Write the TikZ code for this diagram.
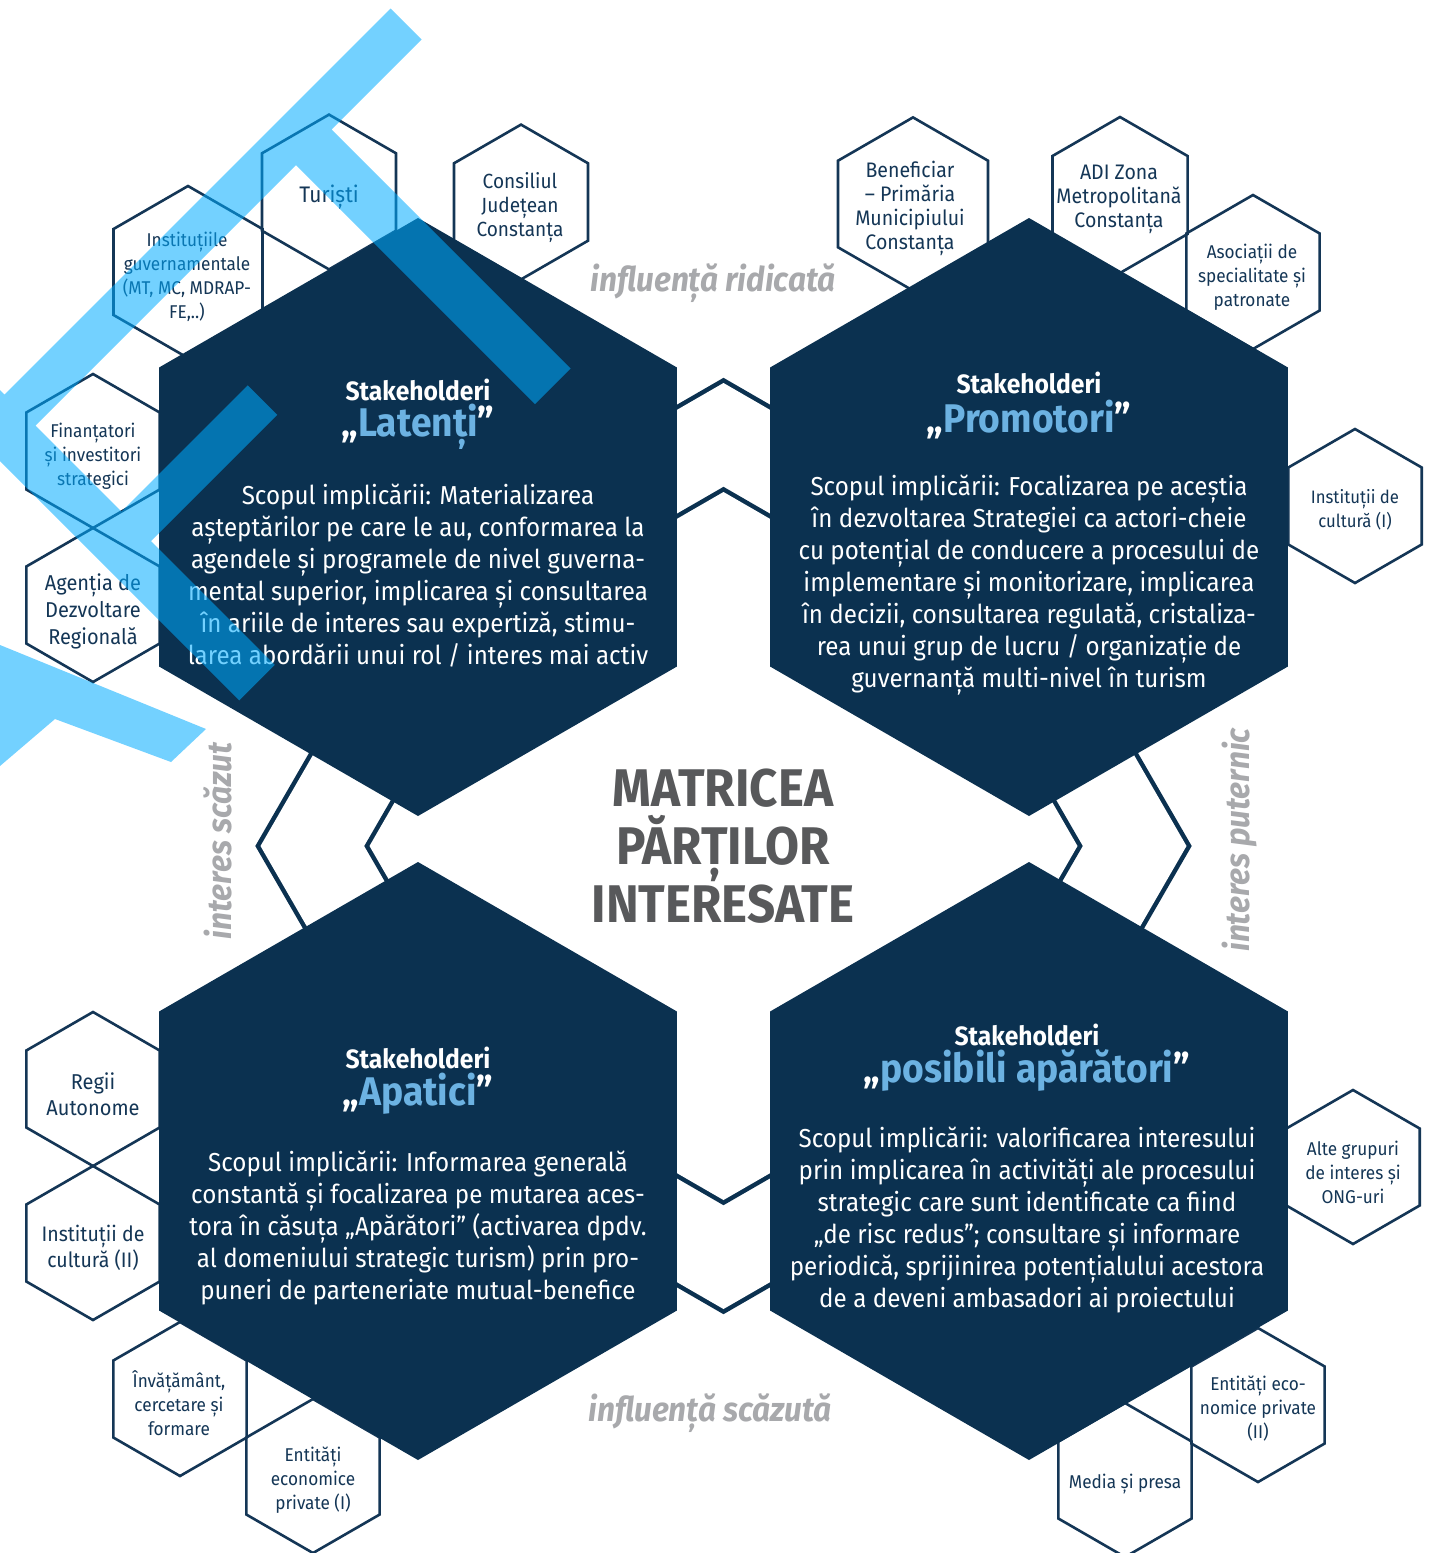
\documentclass[tikz,border=0pt]{standalone}
\usepackage{fontspec}
\setmainfont[FakeStretch=0.93]{Fira Sans}
\definecolor{navy}{RGB}{11,49,80}
\definecolor{hexline}{RGB}{20,54,86}
\definecolor{accent}{RGB}{108,178,226}
\definecolor{titlegrey}{RGB}{88,89,91}
\definecolor{axisgrey}{RGB}{168,169,172}
\definecolor{bandcol}{RGB}{0,172,255}
\newcommand\hexP[3]{(#1,#2-#3) -- (#1+0.8660254*#3,#2-0.5*#3) -- (#1+0.8660254*#3,#2+0.5*#3) -- (#1,#2+#3) -- (#1-0.8660254*#3,#2+0.5*#3) -- (#1-0.8660254*#3,#2-0.5*#3) -- cycle}
\newcommand\hexF[3]{(#1+#3,#2) -- (#1+0.5*#3,#2+0.8660254*#3) -- (#1-0.5*#3,#2+0.8660254*#3) -- (#1-#3,#2) -- (#1-0.5*#3,#2-0.8660254*#3) -- (#1+0.5*#3,#2-0.8660254*#3) -- cycle}
\tikzset{
  smallhex/.style={draw=hexline, line width=2.6pt, line join=miter},
  bighex/.style={fill=navy},
  starline/.style={draw=navy, line width=9pt, line join=miter},
  sh/.style={text=hexline, align=center, inner sep=0pt, font=\fontsize{18.5}{24}\selectfont},
  shl/.style={text=hexline, align=center, inner sep=0pt, font=\fontsize{21.5}{26}\selectfont},
  stk/.style={text=white, inner sep=0pt, font=\bfseries\fontsize{26.5}{30}\selectfont},
  ttl/.style={text=accent, inner sep=0pt, font=\bfseries\fontsize{40}{44}\selectfont},
  body/.style={text=white, align=center, inner sep=0pt, font=\fontsize{26}{32}\selectfont},
  axis/.style={text=axisgrey, inner sep=0pt, font=\bfseries\itshape\fontsize{34}{38}\selectfont},
}
\newcommand\qt[1]{\textcolor{white}{„}#1\textcolor{white}{”}}
\begin{document}
\begin{tikzpicture}[x=1pt,y=-1pt]
\useasboundingbox (0,0) rectangle (1433,1553);
\fill[white] (0,0) rectangle (1433,1553);

% central star outlines (union of two hexagons)
\draw[starline] \hexP{723.5}{846}{463} \hexF{723.5}{846}{463};
\fill[white] \hexP{723.5}{846}{463} \hexF{723.5}{846}{463};
\draw[starline] \hexP{723.5}{846}{354} \hexF{723.5}{846}{354};
\fill[white] \hexP{723.5}{846}{354} \hexF{723.5}{846}{354};

% small hexagons
\draw[smallhex] \hexP{188}{272}{86};
\draw[smallhex] \hexP{329}{192}{77.4};
\draw[smallhex] \hexP{521}{202}{77.4};
\draw[smallhex] \hexP{913}{204}{86.6};
\draw[smallhex] \hexP{1120}{195}{78};
\draw[smallhex] \hexP{1253}{272}{77};
\draw[smallhex] \hexP{1355}{506}{77};
\draw[smallhex] \hexP{93}{451}{77};
\draw[smallhex] \hexP{93}{605}{77};
\draw[smallhex] \hexP{93}{1089}{77};
\draw[smallhex] \hexP{93}{1243}{77};
\draw[smallhex] \hexP{180}{1399}{77};
\draw[smallhex] \hexP{313}{1476}{77};
\draw[smallhex] \hexP{1353}{1167}{77};
\draw[smallhex] \hexP{1258}{1405}{77};
\draw[smallhex] \hexP{1125}{1480}{77};

% big hexagons
\fill[bighex] \hexP{418}{517}{299};
\fill[bighex] \hexP{1029}{517}{299};
\fill[bighex] \hexP{418}{1161}{299};
\fill[bighex] \hexP{1029}{1161}{299};

% small hexagon labels
\node[sh] (instgov) at (187,277) {Instituțiile\\guvernamentale\\(MT, MC, MDRAP-\\FE,..)};
\node[shl, font=\fontsize{22.5}{26}\selectfont] (turisti) at (329,197) {Turiști};
\node[shl, font=\fontsize{20.5}{24}\selectfont] (cj) at (520,208) {Consiliul\\Județean\\Constanța};
\node[shl, font=\fontsize{21}{24}\selectfont] (benef) at (910,208) {Beneficiar\\– Primăria\\Municipiului\\Constanța};
\node[shl, font=\fontsize{21}{24}\selectfont] (adi) at (1119,199) {ADI Zona\\Metropolitană\\Constanța};
\node[sh] (asoc) at (1252,277) {Asociații de\\specialitate și\\patronate};
\node[sh, font=\fontsize{18}{24}\selectfont] (cult1) at (1355,510) {Instituții de\\cultură (I)};
\node[sh] (finant) at (93,456) {Finanțatori\\și investitori\\strategici};
\node[shl, font=\fontsize{21.5}{27}\selectfont] (adr) at (93,611) {Agenția de\\Dezvoltare\\Regională};
\node[shl] (regii) at (93,1094) {Regii\\Autonome};
\node[shl, font=\fontsize{21}{26}\selectfont] (cult2) at (93,1248) {Instituții de\\cultură (II)};
\node[sh] (invat) at (179,1403) {Învățământ,\\cercetare și\\formare};
\node[sh] (ent1) at (313,1480) {Entități\\economice\\private (I)};
\node[sh] (alte) at (1353,1172) {Alte grupuri\\de interes și\\ONG-uri};
\node[sh] (ent2) at (1258,1409) {Entități eco-\\nomice private\\(II)};
\node[sh] (media) at (1125,1484) {Media și presa};

% big hexagon texts
\node[stk] (tlA) at (418,390) {Stakeholderi};
\node[ttl] (tlB) at (418,427) {\qt{Latenți}};
\node[body] (tlC) at (418,576) {Scopul implicării: Materializarea\\așteptărilor pe care le au, conformarea la\\agendele și programele de nivel guverna-\\mental superior, implicarea și consultarea\\în ariile de interes sau expertiză, stimu-\\larea abordării unui rol / interes mai activ};

\node[stk] (trA) at (1029,383) {Stakeholderi};
\node[ttl] (trB) at (1029,420) {\qt{Promotori}};
\node[body] (trC) at (1029,585) {Scopul implicării: Focalizarea pe aceștia\\în dezvoltarea Strategiei ca actori-cheie\\cu potențial de conducere a procesului de\\implementare și monitorizare, implicarea\\în decizii, consultarea regulată, cristaliza-\\rea unui grup de lucru / organizație de\\guvernanță multi-nivel în turism};

\node[stk] (blA) at (418,1058) {Stakeholderi};
\node[ttl] (blB) at (418,1094) {\qt{Apatici}};
\node[body] (blC) at (418,1228) {Scopul implicării: Informarea generală\\constantă și focalizarea pe mutarea aces-\\tora în căsuța „Apărători” (activarea dpdv.\\al domeniului strategic turism) prin pro-\\puneri de parteneriate mutual-benefice};

\node[stk] (brA) at (1027,1035) {Stakeholderi};
\node[ttl] (brB) at (1027,1071) {\qt{posibili apărători}};
\node[body] (brC) at (1027,1220) {Scopul implicării: valorificarea interesului\\prin implicarea în activități ale procesului\\strategic care sunt identificate ca fiind\\„de risc redus”; consultare și informare\\periodică, sprijinirea potențialului acestora\\de a deveni ambasadori ai proiectului};

% central title
\node[text=titlegrey, align=center, inner sep=0pt, font=\bfseries\fontsize{53}{58}\selectfont] (title) at (723,846) {MATRICEA\\PĂRȚILOR\\INTERESATE};

% axis labels
\node[axis] (infH) at (713,283) {influență ridicată};
\node[axis] (infL) at (710,1413) {influență scăzută};
\node[axis, rotate=90] (intL) at (218,841) {interes scăzut};
\node[axis, rotate=90] (intH) at (1240,840) {interes puternic};

% translucent logo bands (one path, so overlaps are painted once)
\fill[bandcol, fill opacity=0.55]
  (390.5,8.5) -- (421.5,39.5) -- (0,461) -- (0,399) -- cycle
  (321,119) -- (570.5,368.5) -- (535,404) -- (285.5,154.5) -- cycle
  (247.75,385.25) -- (277.25,414.75) -- (115.5,576.5) -- (86,547) -- cycle
  (0,390) -- (274.75,664.75) -- (239.25,700.25) -- (0,461) -- cycle
  (0,645) -- (206,729) -- (171,762) -- (55,719) -- (0,766) -- cycle;
\end{tikzpicture}
\end{document}
